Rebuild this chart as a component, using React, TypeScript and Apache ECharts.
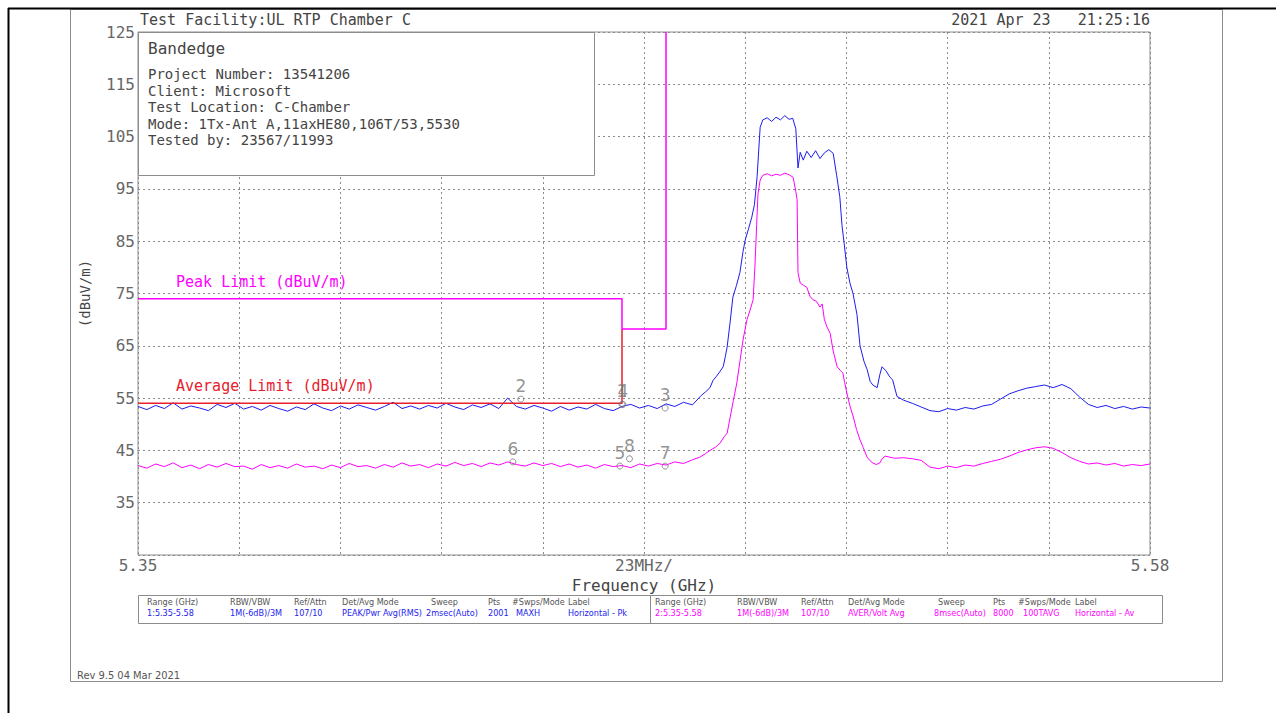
import React, { useEffect, useRef } from "react";
import * as echarts from "echarts";

const MONO = "'DejaVu Sans Mono', 'Liberation Mono', monospace";
const NARROW = "'Liberation Sans Narrow', 'DejaVu Sans Condensed', sans-serif";

// Peak (MAXH) trace, [GHz, dBuV/m]
const peakTrace: [number, number][] = [
  [5.35, 53.4], [5.352, 52.8], [5.354, 53.6], [5.356, 53.0], [5.358, 54.1], [5.36, 52.9], [5.362, 53.5], [5.364, 53.1],
  [5.366, 52.6], [5.368, 53.8], [5.37, 53.2], [5.372, 54.0], [5.374, 52.9], [5.376, 53.4], [5.378, 52.7], [5.38, 53.6],
  [5.382, 53.0], [5.384, 52.5], [5.386, 53.3], [5.388, 52.8], [5.39, 53.9], [5.392, 53.1], [5.394, 52.6], [5.396, 53.5],
  [5.398, 52.9], [5.4, 53.7], [5.402, 53.2], [5.404, 52.7], [5.406, 53.4], [5.408, 54.2], [5.41, 53.0], [5.412, 53.5],
  [5.414, 52.9], [5.416, 53.6], [5.418, 53.1], [5.42, 54.0], [5.422, 53.3], [5.424, 52.8], [5.426, 53.7], [5.428, 53.2],
  [5.43, 53.9], [5.432, 53.0], [5.434, 55.0], [5.436, 53.4], [5.438, 52.9], [5.44, 53.6], [5.442, 53.1], [5.444, 52.5],
  [5.446, 53.4], [5.448, 52.7], [5.45, 53.3], [5.452, 52.9], [5.454, 53.8], [5.456, 53.0], [5.458, 52.6], [5.46, 53.4],
  [5.462, 53.8], [5.464, 53.1], [5.466, 53.6], [5.468, 53.0], [5.47, 53.9], [5.472, 53.4], [5.474, 54.2], [5.476, 53.7],
  [5.478, 55.5], [5.479, 56.2], [5.48, 57.0], [5.4807, 58.4], [5.4815, 59.2], [5.4822, 60.0], [5.483, 61.0], [5.4835, 63.0],
  [5.4839, 64.8], [5.4845, 69.0], [5.4852, 74.3], [5.486, 76.5], [5.4868, 79.0], [5.4875, 83.0], [5.488, 85.2], [5.4888, 87.5],
  [5.4895, 89.6], [5.4901, 92.0], [5.4907, 97.3], [5.4914, 106.8], [5.492, 108.2], [5.493, 108.6], [5.494, 107.9], [5.495, 108.7],
  [5.496, 108.2], [5.497, 109.0], [5.498, 108.3], [5.4988, 108.5], [5.4995, 106.5], [5.5, 99.0], [5.5005, 102.0], [5.5012, 100.5],
  [5.502, 102.2], [5.503, 101.0], [5.504, 102.3], [5.505, 100.8], [5.506, 101.9], [5.507, 102.5], [5.508, 101.8], [5.5088, 97.5],
  [5.5095, 93.5], [5.51, 88.0], [5.5105, 84.5], [5.5111, 80.0], [5.5118, 77.0], [5.5125, 75.0], [5.5134, 71.0], [5.5141, 65.0],
  [5.515, 62.0], [5.5157, 60.5], [5.5164, 58.2], [5.517, 57.5], [5.518, 57.0], [5.5186, 59.5], [5.5191, 61.0], [5.52, 60.2],
  [5.5209, 59.0], [5.5215, 58.5], [5.5225, 55.3], [5.524, 54.6], [5.526, 54.0], [5.528, 53.3], [5.53, 52.6], [5.532, 52.4],
  [5.534, 53.0], [5.536, 52.7], [5.538, 53.2], [5.54, 52.9], [5.542, 53.5], [5.544, 53.8], [5.546, 54.8], [5.548, 55.8],
  [5.55, 56.4], [5.552, 56.9], [5.554, 57.2], [5.556, 57.5], [5.558, 57.0], [5.56, 57.6], [5.562, 56.8], [5.564, 55.2],
  [5.566, 53.8], [5.568, 53.2], [5.57, 53.6], [5.572, 53.0], [5.574, 53.4], [5.576, 52.9], [5.578, 53.3], [5.58, 53.1],
];

// Average (100TAVG) trace, [GHz, dBuV/m]
const avgTrace: [number, number][] = [
  [5.35, 42.1], [5.352, 41.6], [5.354, 42.4], [5.356, 41.9], [5.358, 42.6], [5.36, 41.7], [5.362, 42.2], [5.364, 41.5],
  [5.366, 42.3], [5.368, 41.8], [5.37, 42.5], [5.372, 41.9], [5.374, 42.0], [5.376, 41.4], [5.378, 42.3], [5.38, 41.7],
  [5.382, 42.1], [5.384, 41.6], [5.386, 42.4], [5.388, 41.8], [5.39, 42.0], [5.392, 41.5], [5.394, 42.2], [5.396, 41.7],
  [5.398, 42.5], [5.4, 41.9], [5.402, 42.1], [5.404, 41.6], [5.406, 42.3], [5.408, 41.8], [5.41, 42.6], [5.412, 42.0],
  [5.414, 42.3], [5.416, 41.7], [5.418, 42.4], [5.42, 42.0], [5.422, 42.7], [5.424, 42.1], [5.426, 42.5], [5.428, 41.9],
  [5.43, 42.6], [5.432, 42.2], [5.434, 42.8], [5.436, 42.3], [5.438, 42.0], [5.44, 42.6], [5.442, 42.1], [5.444, 42.5],
  [5.446, 41.9], [5.448, 42.4], [5.45, 41.8], [5.452, 42.2], [5.454, 41.6], [5.456, 42.3], [5.458, 41.9], [5.46, 42.1],
  [5.462, 41.7], [5.464, 42.4], [5.466, 42.0], [5.468, 42.5], [5.47, 42.2], [5.472, 42.8], [5.474, 42.5], [5.476, 43.2],
  [5.4777, 43.7], [5.479, 44.4], [5.48, 45.0], [5.4812, 45.6], [5.4823, 46.4], [5.4832, 47.6], [5.4839, 48.3], [5.4846, 51.4],
  [5.4853, 54.5], [5.4861, 57.9], [5.4868, 62.0], [5.4875, 66.1], [5.4884, 70.0], [5.4891, 71.8], [5.4898, 73.8], [5.4902, 80.0],
  [5.4906, 88.0], [5.4909, 94.0], [5.4914, 96.7], [5.492, 97.6], [5.493, 97.9], [5.494, 97.5], [5.495, 97.8], [5.496, 97.6],
  [5.497, 98.0], [5.498, 97.7], [5.4989, 97.2], [5.4995, 94.5], [5.4998, 92.9], [5.5, 79.0], [5.5005, 77.0], [5.5012, 76.6],
  [5.502, 76.2], [5.5027, 74.5], [5.5034, 73.8], [5.5042, 73.5], [5.505, 72.4], [5.5055, 73.0], [5.506, 70.0], [5.5066, 68.6],
  [5.5073, 67.4], [5.508, 64.0], [5.5089, 61.0], [5.5096, 60.3], [5.5102, 59.8], [5.5106, 58.0], [5.5111, 56.0], [5.5118, 53.5],
  [5.5125, 51.6], [5.5133, 49.0], [5.5141, 47.0], [5.5148, 45.6], [5.5157, 43.7], [5.5164, 43.0], [5.517, 42.6], [5.5178, 42.3],
  [5.5186, 42.6], [5.5192, 43.5], [5.5198, 43.9], [5.5209, 43.7], [5.522, 43.5], [5.524, 43.6], [5.526, 43.4], [5.528, 43.1],
  [5.53, 41.8], [5.532, 41.5], [5.534, 42.0], [5.536, 41.7], [5.538, 42.2], [5.54, 42.0], [5.542, 42.5], [5.544, 42.9],
  [5.546, 43.3], [5.548, 43.9], [5.55, 44.6], [5.552, 45.1], [5.554, 45.5], [5.556, 45.7], [5.558, 45.4], [5.56, 44.6],
  [5.562, 43.6], [5.564, 42.9], [5.566, 42.4], [5.568, 42.6], [5.57, 42.2], [5.572, 42.5], [5.574, 42.0], [5.576, 42.3],
  [5.578, 42.1], [5.58, 42.4],
];

// Limit lines
const peakLimitFreq = [5.35, 5.46, 5.46, 5.47, 5.47];
const peakLimitLevel = [74, 74, 68.2, 68.2, 125];
const avgLimitFreq = [5.35, 5.46, 5.46];
const avgLimitLevel = [54, 54, 68.2];

// Markers
const markerNames = ["1", "2", "3", "4", "5", "6", "7", "8"];
const markerFreq = [5.46, 5.437, 5.4698, 5.4602, 5.4595, 5.4352, 5.4698, 5.4617];
const markerLevel = [53.8, 54.8, 53.1, 53.8, 42.0, 42.8, 42.0, 43.4];

// Axis
const yMin = 25, yMax = 125, yStep = 10;
const xMin = 5.35, xMax = 5.58, xStep = 0.023;
const xTickLabels: [number, string][] = [[5.35, "5.35"], [5.465, "23MHz/"], [5.58, "5.58"]];

// Texts
const titleText = "Test Facility:UL RTP Chamber C";
const dateText = "2021 Apr 23   21:25:16";
const boxTitle = "Bandedge";
const boxLines = [
  "Project Number: 13541206",
  "Client: Microsoft",
  "Test Location: C-Chamber",
  "Mode: 1Tx-Ant A,11axHE80,106T/53,5530",
  "Tested by: 23567/11993",
];
const tableHeaders = ["Range (GHz)", "RBW/VBW", "Ref/Attn", "Det/Avg Mode", "Sweep", "Pts", "#Swps/Mode", "Label"];
const trace1Values = ["1:5.35-5.58", "1M(-6dB)/3M", "107/10", "PEAK/Pwr Avg(RMS)", "2msec(Auto)", "2001", "MAXH", "Horizontal - Pk"];
const trace2Values = ["2:5.35-5.58", "1M(-6dB)/3M", "107/10", "AVER/Volt Avg", "8msec(Auto)", "8000", "100TAVG", "Horizontal - Av"];
const hdrX1 = [147, 230, 294, 342, 431, 488, 512, 568];
const valX1 = [147, 230, 294, 342, 426, 488, 516, 568];
const hdrX2 = [655, 737, 801, 848, 938, 993, 1018, 1075];
const valX2 = [655, 737, 801, 848, 934, 993, 1023, 1075];
const revText = "Rev 9.5 04 Mar 2021";

const BLUE = "#1c1cf0";
const MAGENTA = "#ff00ff";
const RED = "#e8202c";
const GRAY = "#666666";

function txt(text: string, x: number, y: number, size: number, fill: string, family = MONO, align = "left") {
  return {
    type: "text",
    z: 100,
    style: { text, x, y, fill, fontSize: size, fontFamily: family, align, verticalAlign: "middle" },
  };
}

export default function App() {
  const ref = useRef<HTMLDivElement>(null);
  useEffect(() => {
    if (!ref.current) return;
    const chart = echarts.init(ref.current, null, { renderer: "svg" });

    const graphic: any[] = [
      { type: "line", z: 100, shape: { x1: 8, y1: 8.5, x2: 1276, y2: 8.5 }, style: { stroke: "#000", lineWidth: 2 } },
      { type: "line", z: 100, shape: { x1: 8.5, y1: 8, x2: 8.5, y2: 713 }, style: { stroke: "#000", lineWidth: 2 } },
      { type: "rect", z: 1, shape: { x: 70.5, y: 9.5, width: 1152, height: 672 }, style: { fill: "none", stroke: "#8c8c8c", lineWidth: 1 } },
      txt(titleText, 140, 20, 15, "#444"),
      txt(dateText, 1150, 20, 15, "#444", MONO, "right"),
      { type: "rect", z: 90, shape: { x: 138.5, y: 32.5, width: 456, height: 143 }, style: { fill: "#fff", stroke: "#8c8c8c", lineWidth: 1 } },
      txt(boxTitle, 148, 48, 16, "#444"),
      ...boxLines.map((l, i) => txt(l, 148, 74 + i * 16.6, 14, "#444")),
      txt("Peak Limit (dBuV/m)", 176, 282, 15, MAGENTA),
      txt("Average Limit (dBuV/m)", 176, 386, 15, RED),
      { type: "rect", z: 90, shape: { x: 138.5, y: 595.5, width: 1024, height: 28 }, style: { fill: "#fff", stroke: "#8c8c8c", lineWidth: 1 } },
      { type: "line", z: 100, shape: { x1: 650.5, y1: 595, x2: 650.5, y2: 624 }, style: { stroke: "#8c8c8c", lineWidth: 1 } },
      ...tableHeaders.map((t, i) => txt(t, hdrX1[i], 602, 9, "#555", NARROW)),
      ...trace1Values.map((t, i) => txt(t, valX1[i], 613, 9, BLUE, NARROW)),
      ...tableHeaders.map((t, i) => txt(t, hdrX2[i], 602, 9, "#555", NARROW)),
      ...trace2Values.map((t, i) => txt(t, valX2[i], 613, 9, MAGENTA, NARROW)),
      txt(revText, 77, 675, 11, "#555", NARROW),
    ];

    chart.setOption({
      animation: false,
      backgroundColor: "#ffffff",
      grid: { left: 138, top: 32, width: 1012, height: 523, show: true, borderColor: "#8c8c8c", borderWidth: 1 },
      xAxis: {
        type: "value",
        min: xMin,
        max: xMax,
        interval: xStep,
        axisLine: { show: false },
        axisTick: { show: false },
        splitLine: { show: true, lineStyle: { color: "#8a8a8a", type: [2, 3], width: 1 } },
        axisLabel: {
          color: GRAY,
          fontSize: 16,
          fontFamily: MONO,
          margin: 2,
          showMinLabel: true,
          showMaxLabel: true,
          formatter: (v: number) => {
            const hit = xTickLabels.find((t) => Math.abs(t[0] - v) < 1e-6);
            return hit ? hit[1] : "";
          },
        },
        name: "Frequency (GHz)",
        nameLocation: "middle",
        nameGap: 22,
        nameTextStyle: { color: "#444", fontSize: 16, fontFamily: MONO },
      },
      yAxis: {
        type: "value",
        min: yMin,
        max: yMax,
        interval: yStep,
        axisLine: { show: false },
        axisTick: { show: false },
        splitLine: { show: true, lineStyle: { color: "#8a8a8a", type: [2, 3], width: 1 } },
        axisLabel: {
          color: GRAY,
          fontSize: 16,
          fontFamily: MONO,
          margin: 3,
          formatter: (v: number) => (v === yMin ? "" : String(v)),
        },
        name: "(dBuV/m)",
        nameLocation: "middle",
        nameGap: 46,
        nameTextStyle: { color: "#444", fontSize: 14, fontFamily: MONO },
      },
      series: [
        {
          type: "line",
          name: "Peak",
          data: peakTrace,
          showSymbol: false,
          lineStyle: { color: BLUE, width: 1 },
          z: 3,
        },
        {
          type: "line",
          name: "Average",
          data: avgTrace,
          showSymbol: false,
          lineStyle: { color: MAGENTA, width: 1 },
          z: 3,
        },
        {
          type: "line",
          name: "Average Limit",
          data: avgLimitFreq.map((f, i) => [f, avgLimitLevel[i]]),
          showSymbol: false,
          lineStyle: { color: RED, width: 1.5 },
          z: 4,
        },
        {
          type: "line",
          name: "Peak Limit",
          data: peakLimitFreq.map((f, i) => [f, peakLimitLevel[i]]),
          showSymbol: false,
          lineStyle: { color: MAGENTA, width: 1.5 },
          z: 5,
        },
        {
          type: "scatter",
          name: "Markers",
          data: markerNames.map((n, i) => [markerFreq[i], markerLevel[i], n]),
          symbol: "circle",
          symbolSize: 6,
          itemStyle: { color: "rgba(255,255,255,0)", borderColor: "#777", borderWidth: 1 },
          label: {
            show: true,
            position: "top",
            distance: 1,
            formatter: (p: any) => p.data[2],
            color: "#777",
            fontSize: 17,
            fontFamily: "'DejaVu Sans', sans-serif",
          },
          z: 6,
        },
      ],
      graphic,
    });
    return () => chart.dispose();
  }, []);
  return <div ref={ref} style={{ position: "absolute", left: 0, top: 0, width: 1276, height: 713 }} />;
}
